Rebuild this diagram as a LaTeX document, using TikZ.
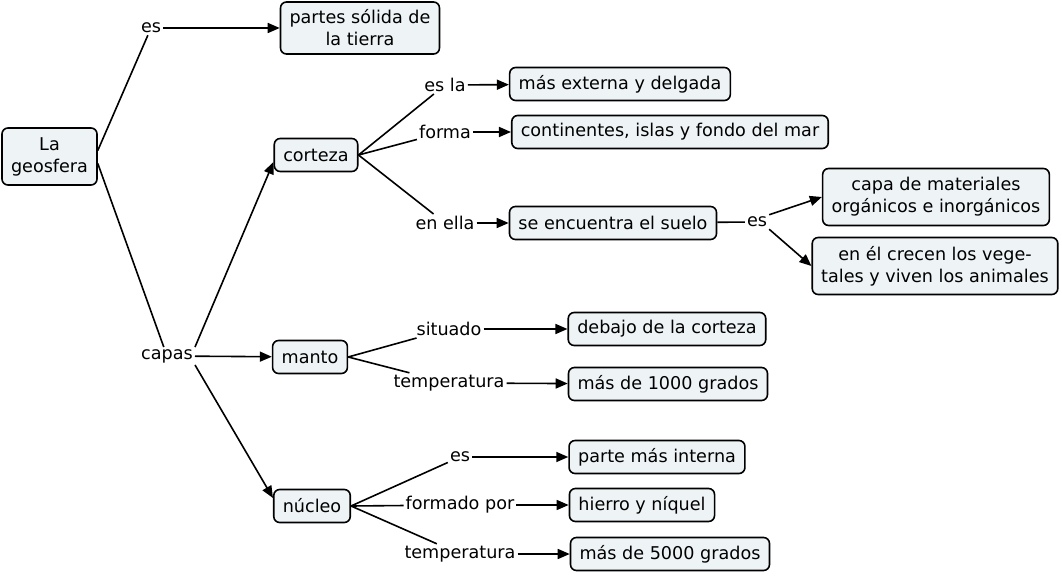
\documentclass[tikz,border=0pt]{standalone}
\usepackage{fontspec}
\setmainfont{DejaVu Sans}
\usetikzlibrary{arrows.meta}
\definecolor{conceptfill}{HTML}{EEF3F6}
\tikzset{
  concept/.style={draw, fill=conceptfill, rounded corners=6pt, line width=1.6pt, align=center, inner xsep=9pt, inner ysep=5pt, minimum height=33pt},
  tall/.style={minimum height=57pt},
  link/.style={inner sep=2pt, align=center},
  line/.style={line width=1.6pt},
  arrow/.style={line width=1.6pt, -{Triangle[length=12pt,width=10pt]}}
}
\begin{document}
\begin{tikzpicture}[x=1pt, y=-1pt, font=\fontsize{17.6}{22}\selectfont]
\useasboundingbox (0,0) rectangle (1062,577);

\node [concept, tall] (geo) at (49.5,156.5) {La\\geosfera};
\node [link] (es) at (151,28) {es};
\node [concept, minimum height=52pt] (partes) at (360,28) {partes sólida de\\la tierra};
\node [link] (capas) at (167,356) {capas};

\node [concept] (corteza) at (316,155) {corteza};
\node [concept] (manto) at (310,357) {manto};
\node [concept] (nucleo) at (312,506) {núcleo};

\node [link] (esla) at (445,85) {es la};
\node [link] (forma) at (445,132) {forma};
\node [link] (enella) at (445,223) {en ella};
\node [concept] (externa) at (620,84) {más externa y delgada};
\node [concept] (contin) at (670,132) {continentes, islas y fondo del mar};
\node [concept] (suelo) at (613,223) {se encuentra el suelo};

\node [link] (essuelo) at (757,222) {es};
\node [concept, tall] (capa) at (936,197) {capa de materiales\\orgánicos e inorgánicos};
\node [concept, tall] (crecen) at (935,266) {en él crecen los vege-\\tales y viven los animales};

\node [link] (situado) at (449,329) {situado};
\node [link] (tempm) at (449,383) {temperatura};
\node [concept] (debajo) at (667,329) {debajo de la corteza};
\node [concept] (mil) at (668,384) {más de 1000 grados};

\node [link] (esn) at (460,457) {es};
\node [link] (formado) at (460,505) {formado por};
\node [link] (tempn) at (460,554) {temperatura};
\node [concept] (interna) at (657,457) {parte más interna};
\node [concept] (hierro) at (642,505) {hierro y níquel};
\node [concept] (cinco) at (670,554) {más de 5000 grados};

\draw [line] ([yshift=6]geo.east) -- (es);
\draw [arrow] (es) -- (partes);
\draw [line] ([yshift=-7]geo.east) -- (capas);
\draw [arrow] (capas.north east) -- ([yshift=-7]corteza.west);
\draw [arrow] (capas) -- (manto);
\draw [arrow] (capas.south east) -- ([yshift=8]nucleo.west);

\draw [line] (corteza.east) -- (esla);
\draw [line] (corteza.east) -- (forma);
\draw [line] (corteza.east) -- (enella);
\draw [arrow] (esla) -- (externa);
\draw [arrow] (forma) -- (contin);
\draw [arrow] (enella) -- (suelo);

\draw [line] (suelo) -- (essuelo);
\draw [arrow] (essuelo.north east) -- (capa.west);
\draw [arrow] (essuelo.south east) -- (crecen.west);

\draw [line] (manto.east) -- (situado);
\draw [line] (manto.east) -- (tempm);
\draw [arrow] (situado) -- (debajo);
\draw [arrow] (tempm) -- (mil);

\draw [line] (nucleo.east) -- (esn);
\draw [line] (nucleo.east) -- (formado);
\draw [line] (nucleo.east) -- (tempn);
\draw [arrow] (esn) -- (interna);
\draw [arrow] (formado) -- (hierro);
\draw [arrow] (tempn) -- (cinco);
\end{tikzpicture}
\end{document}
